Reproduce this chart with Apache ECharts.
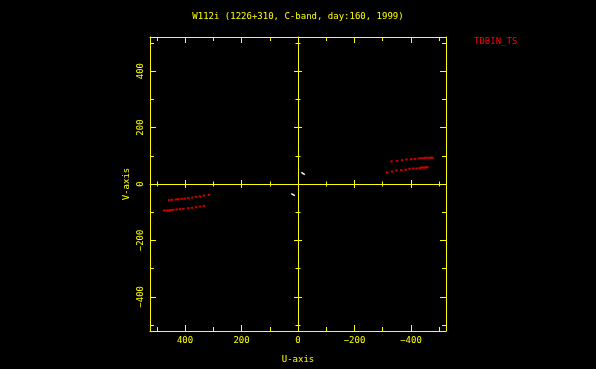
<!DOCTYPE html>
<html lang="en">
<head>
    <meta charset="UTF-8">
    <title>UV coverage</title>
    <script src="https://cdn.jsdelivr.net/npm/echarts@6/dist/echarts.min.js"></script>
    <style>
        html, body { margin: 0; padding: 0; background: #000; }
        #uv { width: 596px; height: 369px; }
    </style>
</head>
<body>
<div id="uv"></div>
<script>
    // tick positions (same for U and V)
    var majorTicks = [-400, -200, 0, 200, 400];
    var minorTicks = [-500, -300, -100, 100, 300, 500];

    // TDBIN_TS baseline tracks, [u, v]
    var trackA = [[-331, 80], [-351, 82], [-369, 84.5], [-384, 87], [-401, 88], [-414, 89], [-428, 90.5],
        [-437, 91.5], [-446, 91.5], [-454, 93], [-463, 93], [-471, 93], [-476, 93]];
    var trackB = [[-316, 41], [-334, 44], [-349, 48], [-366, 49], [-381, 51], [-395, 54], [-408, 55],
        [-420, 55], [-431, 56], [-437, 58.5], [-444, 58.5], [-451, 58.5], [-458, 59.6]];
    var trackC = [[456, -57.4], [446, -56], [432, -55], [424, -54], [412, -52.5], [400, -51.4], [388, -50],
        [374, -48], [361, -45.5], [347, -44], [333, -41], [315, -38.5]];
    var trackD = [[474, -94], [465, -94], [457, -94], [450, -93], [442, -91.6], [430, -90.4], [418, -89.3],
        [406, -88], [388, -85.8], [375, -84.5], [361, -82.2], [347, -79.8], [333, -77.4]];
    // short baselines near the origin
    var shortA = [[-12, 41], [-19, 39], [-24, 33]];
    var shortB = [[24, -34], [17, -35], [11, -41]];

    var yellow = '#ffff00';
    var font = 'DejaVu Sans Mono';

    function fmt(v) {
        return v < 0 ? '\u2212' + (-v) : String(v);
    }

    // one axis; several are stacked to draw box ticks and the zero cross
    function axis(dim, pos, ticks, len, inside, opt) {
        opt = opt || {};
        var a = {
            type: 'value',
            position: pos,
            min: dim === 'x' ? -524 : -521,
            max: dim === 'x' ? 524 : 521,
            inverse: dim === 'x',
            splitLine: {show: false},
            axisLine: {
                show: !!opt.line,
                onZero: !!opt.zero,
                lineStyle: {color: yellow, width: 1, opacity: 1}
            },
            axisTick: {
                show: true,
                inside: inside,
                length: len,
                customValues: ticks,
                lineStyle: {color: yellow, width: 1, opacity: 1}
            },
            axisLabel: {show: false}
        };
        if (opt.zero) a.axisLine.onZeroAxisIndex = 0;
        if (opt.label) {
            a.axisLabel = {
                show: true,
                customValues: majorTicks,
                color: yellow,
                fontFamily: font,
                fontSize: 9,
                margin: 5,
                rotate: dim === 'y' ? 90 : 0,
                formatter: fmt
            };
            a.name = dim === 'x' ? 'U-axis' : 'V-axis';
            a.nameLocation = 'middle';
            a.nameGap = dim === 'x' ? 24 : 19;
            a.nameTextStyle = {color: yellow, fontFamily: font, fontSize: 9};
        }
        return a;
    }

    function axesFor(dim) {
        var lo = dim === 'x' ? 'bottom' : 'left';
        var hi = dim === 'x' ? 'top' : 'right';
        return [
            axis(dim, lo, majorTicks, 6, true, {line: true, label: true}),
            axis(dim, lo, minorTicks, 4, true),
            axis(dim, hi, majorTicks, 6, true, {line: true}),
            axis(dim, hi, minorTicks, 4, true),
            axis(dim, lo, majorTicks, 4, true, {line: true, zero: true}),
            axis(dim, lo, majorTicks, 4, false, {zero: true}),
            axis(dim, lo, minorTicks, 2.5, true, {zero: true}),
            axis(dim, lo, minorTicks, 2.5, false, {zero: true})
        ];
    }

    function dots(data) {
        return {
            type: 'scatter',
            data: data,
            symbol: 'rect',
            symbolSize: [2.5, 2],
            itemStyle: {color: '#ff0000'},
            silent: true
        };
    }

    function hook(data) {
        return {
            type: 'line',
            data: data,
            showSymbol: false,
            lineStyle: {color: '#ffffff', width: 1.5},
            silent: true
        };
    }

    var chart = echarts.init(document.getElementById('uv'));
    chart.setOption({
        backgroundColor: '#000000',
        animation: false,
        grid: {left: 150, right: 150, top: 37, bottom: 38, outerBoundsMode: 'none'},
        xAxis: axesFor('x'),
        yAxis: axesFor('y'),
        graphic: [
            {
                type: 'text',
                style: {
                    text: 'W112i (1226+310, C-band, day:160, 1999)',
                    x: 298, y: 16.5, textAlign: 'center', textVerticalAlign: 'middle',
                    fill: yellow, font: '9px "DejaVu Sans Mono"'
                }
            },
            {
                type: 'text',
                style: {
                    text: 'TDBIN_TS',
                    x: 474, y: 42, textAlign: 'left', textVerticalAlign: 'middle',
                    fill: '#ff0000', font: '9px "DejaVu Sans Mono"'
                }
            }
        ],
        series: [
            dots(trackA), dots(trackB), dots(trackC), dots(trackD),
            hook(shortA), hook(shortB)
        ]
    });
</script>
</body>
</html>
